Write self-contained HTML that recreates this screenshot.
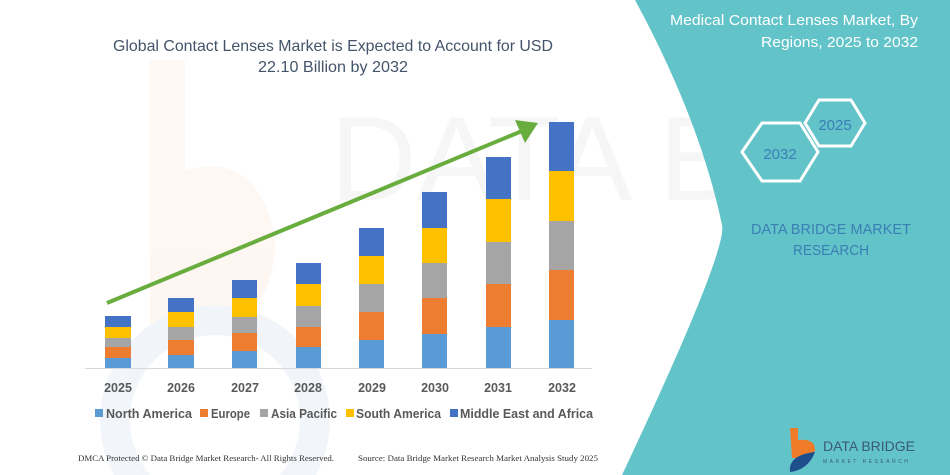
<!DOCTYPE html>
<html><head><meta charset="utf-8"><style>
html,body{margin:0;padding:0;background:#fff;width:950px;height:475px;overflow:hidden;}
svg{display:block;font-family:"Liberation Sans",sans-serif;}
</style></head><body>
<svg width="950" height="475" viewBox="0 0 950 475" xmlns="http://www.w3.org/2000/svg">
<rect width="950" height="475" fill="#fff"/>
<!-- faint watermark -->
<g opacity="0.06">
<path d="M150 60 L185 60 L185 170 Q260 150 275 240 Q275 330 185 335 L150 335 Z" fill="#f07c2a"/>
<circle cx="215" cy="420" r="100" fill="none" stroke="#2a5ea8" stroke-width="30"/>
</g>
<text x="330" y="200" font-size="120" fill="#000" opacity="0.03" font-family="Liberation Sans">DATA BRIDGE</text>
<!-- teal panel -->
<path d="M635 0 L950 0 L950 475 L622 475 Q728 250 722 225 Q700 120 635 0 Z" fill="#62c3c9"/>
<!-- title -->
<text x="333" y="51" text-anchor="middle" font-size="16" fill="#44546a" textLength="440" lengthAdjust="spacingAndGlyphs">Global Contact Lenses Market is Expected to Account for USD</text>
<text x="333" y="72" text-anchor="middle" font-size="16" fill="#44546a" textLength="150" lengthAdjust="spacingAndGlyphs">22.10 Billion by 2032</text>
<!-- right title -->
<text x="918" y="25" text-anchor="end" font-size="15" fill="#fff" textLength="248" lengthAdjust="spacingAndGlyphs">Medical Contact Lenses Market, By</text>
<text x="918" y="47" text-anchor="end" font-size="15" fill="#fff" textLength="157" lengthAdjust="spacingAndGlyphs">Regions, 2025 to 2032</text>
<!-- hexagons -->
<polygon points="742,152 762,123 800,123 818,152 800,181 762,181" fill="none" stroke="#fff" stroke-width="3"/>
<polygon points="805,123 819,100 851,100 865,123 851,146 819,146" fill="none" stroke="#fff" stroke-width="3"/>
<text x="780" y="159" text-anchor="middle" font-size="15" fill="#3a7fb5">2032</text>
<text x="835" y="130" text-anchor="middle" font-size="15" fill="#3a7fb5">2025</text>
<text x="831" y="234" text-anchor="middle" font-size="15" fill="#3a7fb5" textLength="160" lengthAdjust="spacingAndGlyphs">DATA BRIDGE MARKET</text>
<text x="831" y="255" text-anchor="middle" font-size="15" fill="#3a7fb5" textLength="76" lengthAdjust="spacingAndGlyphs">RESEARCH</text>
<!-- baseline -->
<line x1="85" y1="368.5" x2="592" y2="368.5" stroke="#d9d9d9" stroke-width="1"/>
<!-- bars -->
<g>
<rect x="105" y="358" width="26" height="10" fill="#5b9bd5"/><rect x="105" y="347" width="26" height="11" fill="#ed7d31"/><rect x="105" y="338" width="26" height="9" fill="#a5a5a5"/><rect x="105" y="327" width="26" height="11" fill="#ffc000"/><rect x="105" y="316" width="26" height="11" fill="#4472c4"/>
<rect x="168" y="355" width="26" height="13" fill="#5b9bd5"/><rect x="168" y="340" width="26" height="15" fill="#ed7d31"/><rect x="168" y="327" width="26" height="13" fill="#a5a5a5"/><rect x="168" y="312" width="26" height="15" fill="#ffc000"/><rect x="168" y="298" width="26" height="14" fill="#4472c4"/>
<rect x="232" y="351" width="25" height="17" fill="#5b9bd5"/><rect x="232" y="333" width="25" height="18" fill="#ed7d31"/><rect x="232" y="317" width="25" height="16" fill="#a5a5a5"/><rect x="232" y="298" width="25" height="19" fill="#ffc000"/><rect x="232" y="280" width="25" height="18" fill="#4472c4"/>
<rect x="296" y="347" width="25" height="21" fill="#5b9bd5"/><rect x="296" y="327" width="25" height="20" fill="#ed7d31"/><rect x="296" y="306" width="25" height="21" fill="#a5a5a5"/><rect x="296" y="284" width="25" height="22" fill="#ffc000"/><rect x="296" y="263" width="25" height="21" fill="#4472c4"/>
<rect x="359" y="340" width="25" height="28" fill="#5b9bd5"/><rect x="359" y="312" width="25" height="28" fill="#ed7d31"/><rect x="359" y="284" width="25" height="28" fill="#a5a5a5"/><rect x="359" y="256" width="25" height="28" fill="#ffc000"/><rect x="359" y="228" width="25" height="28" fill="#4472c4"/>
<rect x="422" y="334" width="25" height="34" fill="#5b9bd5"/><rect x="422" y="298" width="25" height="36" fill="#ed7d31"/><rect x="422" y="263" width="25" height="35" fill="#a5a5a5"/><rect x="422" y="228" width="25" height="35" fill="#ffc000"/><rect x="422" y="192" width="25" height="36" fill="#4472c4"/>
<rect x="486" y="327" width="25" height="41" fill="#5b9bd5"/><rect x="486" y="284" width="25" height="43" fill="#ed7d31"/><rect x="486" y="242" width="25" height="42" fill="#a5a5a5"/><rect x="486" y="199" width="25" height="43" fill="#ffc000"/><rect x="486" y="157" width="25" height="42" fill="#4472c4"/>
<rect x="549" y="320" width="25" height="48" fill="#5b9bd5"/><rect x="549" y="270" width="25" height="50" fill="#ed7d31"/><rect x="549" y="221" width="25" height="49" fill="#a5a5a5"/><rect x="549" y="171" width="25" height="50" fill="#ffc000"/><rect x="549" y="122" width="25" height="49" fill="#4472c4"/>
</g>
<!-- arrow -->
<line x1="107" y1="303" x2="522" y2="131" stroke="#6aad3f" stroke-width="4"/>
<polygon points="538,123 515,120 525,143" fill="#6aad3f"/>
<!-- year labels -->
<g font-size="12.5" font-weight="bold" fill="#595959" text-anchor="middle">
<text x="118" y="392">2025</text><text x="181" y="392">2026</text><text x="245" y="392">2027</text><text x="308" y="392">2028</text><text x="372" y="392">2029</text><text x="435" y="392">2030</text><text x="498" y="392">2031</text><text x="562" y="392">2032</text>
</g>
<!-- legend -->
<g font-size="12.5" font-weight="bold" fill="#595959">
<rect x="95" y="409" width="8" height="8" fill="#5b9bd5"/><text x="106" y="418" textLength="86" lengthAdjust="spacingAndGlyphs">North America</text>
<rect x="200" y="409" width="8" height="8" fill="#ed7d31"/><text x="211" y="418" textLength="39" lengthAdjust="spacingAndGlyphs">Europe</text>
<rect x="260" y="409" width="8" height="8" fill="#a5a5a5"/><text x="271" y="418" textLength="66" lengthAdjust="spacingAndGlyphs">Asia Pacific</text>
<rect x="346" y="409" width="8" height="8" fill="#ffc000"/><text x="356" y="418" textLength="85" lengthAdjust="spacingAndGlyphs">South America</text>
<rect x="450" y="409" width="8" height="8" fill="#4472c4"/><text x="460" y="418" textLength="133" lengthAdjust="spacingAndGlyphs">Middle East and Africa</text>
</g>
<!-- footer -->
<text x="78" y="461" font-size="8.5" fill="#333" font-family="Liberation Serif" textLength="256" lengthAdjust="spacingAndGlyphs">DMCA Protected © Data Bridge Market Research- All Rights Reserved.</text>
<text x="358" y="461" font-size="8.5" fill="#333" font-family="Liberation Serif" textLength="240" lengthAdjust="spacingAndGlyphs">Source: Data Bridge Market Research Market Analysis Study 2025</text>
<!-- logo -->
<path d="M790 428 L798 428 L798 440 Q815 438 815 450 Q812 460 800 458 L792 458 Z" fill="#f07c2a"/>
<path d="M790 472 Q788 455 815 452 Q808 470 790 472 Z" fill="#1f4e8c"/>
<text x="823" y="451" font-size="14" fill="#3a5a7a" textLength="92" lengthAdjust="spacingAndGlyphs">DATA BRIDGE</text>
<text x="823" y="463" font-size="5" fill="#3a5a7a" letter-spacing="2.5">MARKET RESEARCH</text>
</svg>
</body></html>
